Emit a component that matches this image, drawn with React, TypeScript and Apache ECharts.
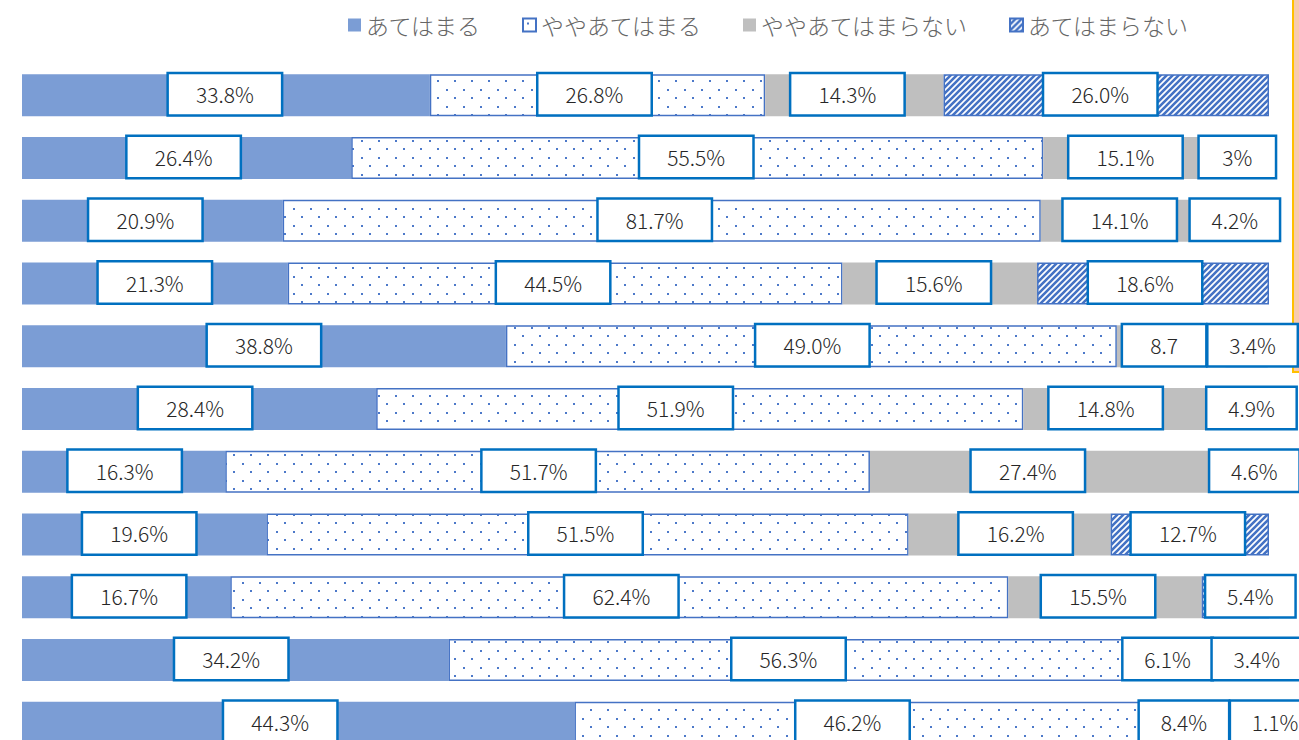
import React, { useEffect, useRef } from "react";
import * as echarts from "echarts";

const categories = ["1", "2", "3", "4", "5", "6", "7", "8", "9", "10", "11"];
const seriesNames = ["あてはまる", "ややあてはまる", "ややあてはまらない", "あてはまらない"];

// bar lengths (as drawn)
const applies = [32.7, 26.4, 20.9, 21.3, 38.8, 28.4, 16.3, 19.6, 16.7, 34.2, 44.3];
const somewhatApplies = [26.9, 55.5, 60.8, 44.5, 49.0, 51.9, 51.7, 51.5, 62.4, 56.3, 46.2];
const somewhatNot = [14.3, 15.1, 14.1, 15.6, 8.7, 14.8, 27.4, 16.2, 15.5, 6.1, 8.4];
const notApply = [26.1, 3.0, 4.2, 18.6, 3.4, 4.9, 4.6, 12.7, 5.4, 3.4, 1.1];

// label texts (as printed)
const appliesLabels = ["33.8%", "26.4%", "20.9%", "21.3%", "38.8%", "28.4%", "16.3%", "19.6%", "16.7%", "34.2%", "44.3%"];
const somewhatAppliesLabels = ["26.8%", "55.5%", "81.7%", "44.5%", "49.0%", "51.9%", "51.7%", "51.5%", "62.4%", "56.3%", "46.2%"];
const somewhatNotLabels = ["14.3%", "15.1%", "14.1%", "15.6%", "8.7", "14.8%", "27.4%", "16.2%", "15.5%", "6.1%", "8.4%"];
const notApplyLabels = ["26.0%", "3%", "4.2%", "18.6%", "3.4%", "4.9%", "4.6%", "12.7%", "5.4%", "3.4%", "1.1%"];

// horizontal nudges of label boxes (layout only)
const nudge1 = [-1, -3, -7, 0, 0, -4, 1, -5, 3, -4, -18];
const nudge2 = [-3, -1, -7, -12, 1, -24, -9, -2, 2, -11, -10];
const nudge3 = [-7, -12, -9, -6, -7, -10, -13, 6, -7, -21, -19];
const nudge4 = [-6, -13, -8, -8, 6, 13, 14, -2, 15, 9, 13];

function dotPattern() {
  const c = document.createElement("canvas");
  c.width = 17;
  c.height = 17;
  const ctx = c.getContext("2d")!;
  ctx.fillStyle = "#ffffff";
  ctx.fillRect(0, 0, 17, 17);
  ctx.fillStyle = "#4d79c9";
  ctx.fillRect(4, 4, 2, 2);
  ctx.fillRect(12, 12, 2, 2);
  return { image: c, repeat: "repeat", imageWidth: 17, imageHeight: 17 };
}

function hatchPattern() {
  const s = 6;
  const c = document.createElement("canvas");
  c.width = s;
  c.height = s;
  const ctx = c.getContext("2d")!;
  ctx.fillStyle = "#ffffff";
  ctx.fillRect(0, 0, s, s);
  ctx.strokeStyle = "#4472c4";
  ctx.lineWidth = 2.6;
  ctx.beginPath();
  ctx.moveTo(-s, s);
  ctx.lineTo(s, -s);
  ctx.moveTo(-s, 2 * s);
  ctx.lineTo(2 * s, -s);
  ctx.moveTo(0, 2 * s);
  ctx.lineTo(2 * s, 0);
  ctx.stroke();
  return { image: c, repeat: "repeat", imageWidth: s, imageHeight: s };
}

function boxWidth(t: string) {
  if (t.length >= 5) return 112;
  if (t.length === 4) return 88;
  if (t.length === 3) return 82;
  return 75;
}

function makeData(vals: number[], labels: string[], nudges: number[]) {
  return vals.map((v, i) => ({
    value: v,
    label: {
      formatter: labels[i],
      width: boxWidth(labels[i]),
      offset: [nudges[i], -1],
    },
  }));
}

export default function App() {
  const ref = useRef<HTMLDivElement>(null);
  useEffect(() => {
    if (!ref.current) return;
    const chart = echarts.init(ref.current, null, { renderer: "svg" });
    const labelBase = {
      show: true,
      position: "inside",
      backgroundColor: "#ffffff",
      borderColor: "#0070c0",
      borderWidth: 2.5,
      height: 40,
      lineHeight: 40,
      align: "center",
      verticalAlign: "middle",
      fontSize: 21,
      fontWeight: 300,
      color: "#262626",
      fontFamily: "'Noto Sans CJK JP Light', 'Noto Sans CJK JP', sans-serif",
    };
    const styles = [
      { color: "#7b9dd5" },
      { color: dotPattern(), borderColor: "#4472c4", borderWidth: 1.5 },
      { color: "#bfbfbf" },
      { color: hatchPattern(), borderColor: "#4472c4", borderWidth: 1.5 },
    ];
    const vals = [applies, somewhatApplies, somewhatNot, notApply];
    const labs = [appliesLabels, somewhatAppliesLabels, somewhatNotLabels, notApplyLabels];
    const nudges = [nudge1, nudge2, nudge3, nudge4];
    const series = seriesNames.map((name, si) => ({
      name,
      type: "bar",
      stack: "total",
      barWidth: 42,
      itemStyle: styles[si],
      label: labelBase,
      emphasis: { disabled: true },
      data: makeData(vals[si], labs[si], nudges[si]),
    }));
    chart.setOption({
      animation: false,
      legend: {
        left: 343,
        top: 7,
        itemWidth: 13,
        itemHeight: 13,
        itemGap: 41,
        icon: "rect",
        textStyle: {
          fontSize: 23,
          lineHeight: 26,
          fontWeight: 300,
          color: "#666666",
          fontFamily: "'Noto Sans CJK JP Light', 'Noto Sans CJK JP', sans-serif",
        },
        data: seriesNames,
      },
      grid: { left: 22, right: 30, top: 64, bottom: 6, containLabel: false },
      xAxis: { type: "value", min: 0, max: 100, show: false },
      yAxis: { type: "category", data: categories, inverse: true, show: false },
      graphic: [
        {
          type: "rect",
          z: 0,
          shape: { x: 1293, y: -5, width: 20, height: 377 },
          style: { fill: "#f8cbad", stroke: "#ffc000", lineWidth: 2 },
        },
      ],
      series,
    });
    return () => chart.dispose();
  }, []);
  return (
    <div
      ref={ref}
      style={{ position: "fixed", left: 0, top: 0, width: 1299, height: 760, background: "#ffffff" }}
    />
  );
}
